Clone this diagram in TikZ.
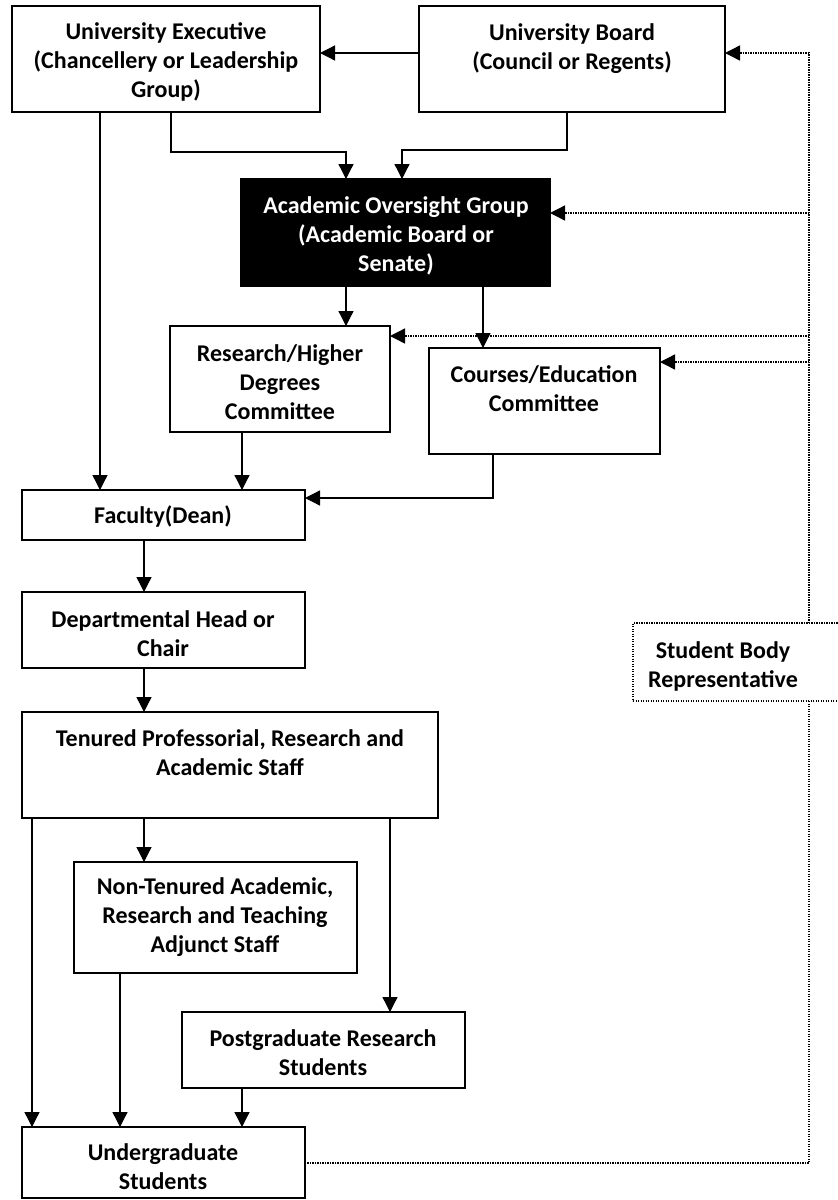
\documentclass[tikz,border=0pt]{standalone}
\usepackage{fontspec}
\setmainfont{Carlito}
\usetikzlibrary{arrows.meta,calc}
\begin{document}
\begin{tikzpicture}[x=1pt,y=-1pt,
  box/.style={draw,line width=1.6pt,inner sep=0pt,outer sep=0pt,anchor=north west},
  txt/.style={align=center,font=\fontsize{24}{29}\selectfont\bfseries,inner sep=0pt},
  arr/.style={line width=1.3pt,-{Triangle[width=15pt,length=15pt]}},
  dotline/.style={line width=1.4pt,dash pattern=on 1.3pt off 1.2pt},
  dotarr/.style={dotline,-{Triangle[width=15pt,length=15pt]}},
]
\useasboundingbox (0,0) rectangle (838,1200);
% helper coordinates
\foreach \v in {32,100,120,144,171,242,346,390,402,483,493,567,809}{\coordinate (x\v) at (\v,0);}
\foreach \v in {53,150,152,213,336,362,498,1163}{\coordinate (r\v) at (0,\v);}

% boxes
\node[box,minimum width=308pt,minimum height=106pt] (ue) at (12,6) {};
\node[txt] (uet) at (166,62) {University Executive\\(Chancellery or Leadership\\Group)};
\node[box,minimum width=306pt,minimum height=106pt] (ub) at (419,6) {};
\node[txt] (ubt) at (572,49) {University Board\\(Council or Regents)};
\node[box,fill=black,minimum width=309pt,minimum height=107pt] (aog) at (241,179) {};
\node[txt,text=white] (aogt) at (396,236) {Academic Oversight Group\\(Academic Board or\\Senate)};
\node[box,minimum width=220pt,minimum height=106pt] (rhd) at (170,326) {};
\node[txt] (rhdt) at (280,382) {Research/Higher\\Degrees\\Committee};
\node[box,minimum width=231pt,minimum height=106pt] (ce) at (429,348) {};
\node[txt] (cet) at (544,389) {Courses/Education\\Committee};
\node[box,minimum width=283pt,minimum height=50pt] (fac) at (22,490) {};
\node[txt] (fact) at (163,516) {Faculty(Dean)};
\node[box,minimum width=283pt,minimum height=76pt] (dept) at (22,592) {};
\node[txt] (deptt) at (163,634) {Departmental Head or\\Chair};
\node[box,minimum width=416pt,minimum height=106pt] (ten) at (22,712) {};
\node[txt] (tent) at (230,753) {Tenured Professorial, Research and\\Academic Staff};
\node[box,minimum width=283pt,minimum height=111pt] (nt) at (74,862) {};
\node[txt] (ntt) at (215,917) {Non-Tenured Academic,\\Research and Teaching\\Adjunct Staff};
\node[box,minimum width=283pt,minimum height=76pt] (pg) at (182,1012) {};
\node[txt] (pgt) at (323,1053) {Postgraduate Research\\Students};
\node[box,minimum width=283pt,minimum height=71pt] (ug) at (22,1127) {};
\node[txt] (ugt) at (163,1167) {Undergraduate\\Students};
\node[box,dotline,minimum width=217pt,minimum height=78pt] (sbr) at (633,623) {};
\node[txt] (sbrt) at (723,666) {Student Body\\Representative};

% solid connectors
\draw[arr] (ub.west |- r53) -- (ue.east |- r53);
\draw[arr] (ue.south -| x100) -- (fac.north -| x100);
\draw[arr] (ue.south -| x171) |- (r152 -| x346) -- (aog.north -| x346);
\draw[arr] (ub.south -| x567) |- (r150 -| x402) -- (aog.north -| x402);
\draw[arr] (aog.south -| x346) -- (rhd.north -| x346);
\draw[arr] (aog.south -| x483) -- (ce.north -| x483);
\draw[arr] (rhd.south -| x242) -- (fac.north -| x242);
\draw[arr] (ce.south -| x493) |- (fac.east |- r498);
\draw[arr] (fac.south -| x144) -- (dept.north -| x144);
\draw[arr] (dept.south -| x144) -- (ten.north -| x144);
\draw[arr] (ten.south -| x144) -- (nt.north -| x144);
\draw[arr] (ten.south -| x32) -- (ug.north -| x32);
\draw[arr] (ten.south -| x390) -- (pg.north -| x390);
\draw[arr] (nt.south -| x120) -- (ug.north -| x120);
\draw[arr] (pg.south -| x242) -- (ug.north -| x242);

% dotted connectors
\draw[dotarr] (sbr.north -| x809) |- (ub.east |- r53);
\draw[dotarr] (x809 |- r213) -- (aog.east |- r213);
\draw[dotarr] (x809 |- r336) -- (rhd.east |- r336);
\draw[dotarr] (x809 |- r362) -- (ce.east |- r362);
\draw[dotline] (sbr.south -| x809) |- (ug.east |- r1163);
\end{tikzpicture}
\end{document}
